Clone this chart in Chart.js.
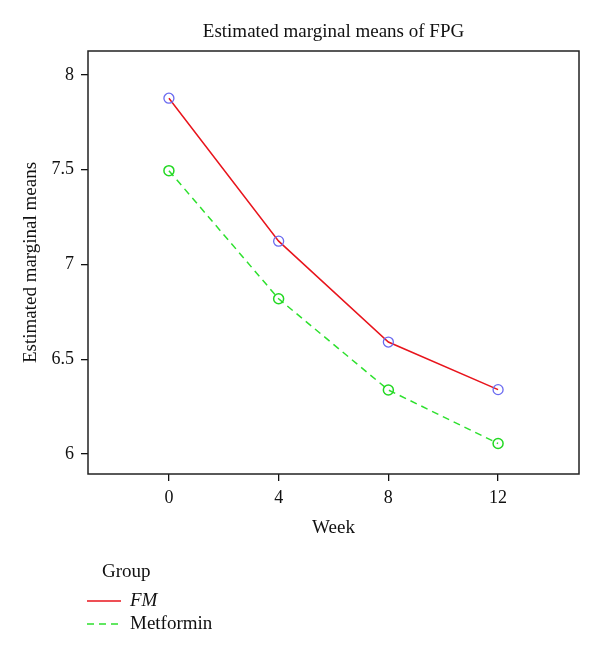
<!DOCTYPE html>
<html>
<head>
<meta charset="utf-8">
<script src="https://cdn.jsdelivr.net/npm/chart.js@4"></script>
<style>
  html, body { margin: 0; padding: 0; background: #fff; }
  #wrap { width: 600px; height: 658px; }
</style>
</head>
<body>
<div id="wrap"><canvas id="emm-canvas" width="600" height="658"></canvas></div>
<script>
// values
const weeks = [0, 4, 8, 12];
const fmMeans = [7.877, 7.123, 6.591, 6.340];
const metforminMeans = [7.495, 6.819, 6.338, 6.056];
const yTicks = [6, 6.5, 7, 7.5, 8];
const groupNames = ["FM", "Metformin"];

const SERIF = "'Liberation Serif', 'DejaVu Serif', serif";

const boxAndLegend = {
  id: 'boxAndLegend',
  afterDraw(chart) {
    const ctx = chart.ctx;
    const a = chart.chartArea;
    ctx.save();
    // plot frame
    ctx.strokeStyle = '#222';
    ctx.lineWidth = 1.5;
    ctx.strokeRect(a.left, a.top, a.right - a.left, a.bottom - a.top);

    // title
    ctx.fillStyle = '#111';
    ctx.font = "19px " + SERIF;
    ctx.textAlign = 'center';
    ctx.textBaseline = 'middle';
    ctx.fillText("Estimated marginal means of FPG", (a.left + a.right) / 2, 32);

    // legend
    ctx.textAlign = 'left';
    ctx.font = "19px " + SERIF;
    ctx.fillText("Group", 102, 572);
    const rows = [601, 624];
    chart.data.datasets.forEach((ds, i) => {
      const y = rows[i];
      ctx.strokeStyle = ds.borderColor;
      ctx.lineWidth = ds.borderWidth;
      ctx.setLineDash(ds.borderDash || []);
      ctx.beginPath();
      ctx.moveTo(87, y);
      ctx.lineTo(121, y);
      ctx.stroke();
      ctx.setLineDash([]);
      ctx.fillStyle = '#111';
      ctx.font = (i === 0 ? "italic " : "") + "19px " + SERIF;
      ctx.fillText(ds.label, 130, y);
    });
    ctx.restore();
  }
};

function emmConfig() {
  return {
    type: "scatter",
    data: {
      datasets: [
        {
          label: groupNames[0],
          data: weeks.map((w, i) => ({ x: w, y: fmMeans[i] })),
          borderColor: "#e8141c",
          borderWidth: 1.5,
          showLine: true,
          tension: 0,
          pointRadius: 5,
          pointBorderWidth: 1.3,
          pointBorderColor: "#6a6af0",
          pointBackgroundColor: "rgba(0,0,0,0)",
        },
        {
          label: groupNames[1],
          data: weeks.map((w, i) => ({ x: w, y: metforminMeans[i] })),
          borderColor: "#2ee02e",
          borderWidth: 1.5,
          borderDash: [7, 5],
          showLine: true,
          tension: 0,
          pointRadius: 5,
          pointBorderWidth: 1.5,
          pointBorderColor: "#22d822",
          pointBackgroundColor: "rgba(0,0,0,0)",
        },
      ],
    },
    options: {
      responsive: false,
      animation: false,
      layout: {
        padding: { top: 51, right: 21, bottom: 118, left: 0 }
      },
      plugins: {
        legend: { display: false },
        tooltip: { enabled: false },
      },
      scales: {
        x: {
          type: "linear",
          min: -2.95,
          max: 14.95,
          afterBuildTicks: (scale) => { scale.ticks = weeks.map(v => ({ value: v })); },
          afterFit: (scale) => { scale.height = 66; },
          border: { display: false },
          grid: { drawOnChartArea: false, tickLength: 7, color: '#111', lineWidth: 1.3 },
          ticks: { color: '#111', padding: 6, maxRotation: 0, font: { family: SERIF, size: 18 },
                   callback: (v) => String(v) },
          title: {
            display: true,
            text: "Week",
            color: '#111',
            font: { family: SERIF, size: 19 },
            padding: { top: 0, bottom: 1 },
          },
        },
        y: {
          type: "linear",
          min: 5.895,
          max: 8.126,
          afterBuildTicks: (scale) => { scale.ticks = yTicks.map(v => ({ value: v })); },
          afterFit: (scale) => { scale.width = 88; },
          border: { display: false },
          grid: { drawOnChartArea: false, tickLength: 7, color: '#111', lineWidth: 1.3 },
          ticks: { color: '#111', padding: 7, font: { family: SERIF, size: 18 },
                   callback: (v) => String(v) },
          title: {
            display: true,
            text: "Estimated marginal means",
            color: '#111',
            font: { family: SERIF, size: 19 },
            padding: { top: 20, bottom: 0 },
          },
        },
      },
    },
    plugins: [boxAndLegend],
  };
}

const ctx = document.getElementById('emm-canvas').getContext('2d');
window.emmChart = new Chart(ctx, emmConfig());
</script>
</body>
</html>
